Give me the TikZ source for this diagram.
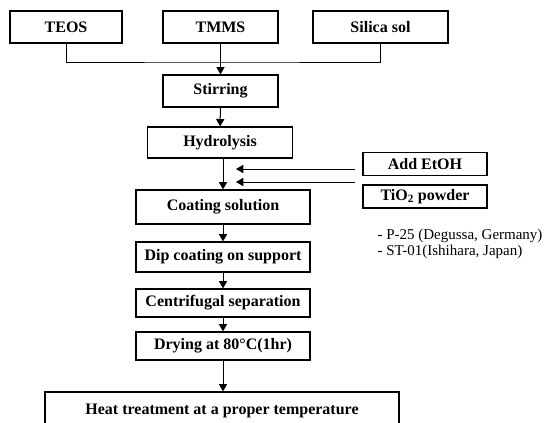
\documentclass[tikz,border=0pt]{standalone}
\usepackage{fontspec}
\setmainfont{Liberation Serif}
\usepackage{tikz}
\usetikzlibrary{calc}
\usetikzlibrary{arrows}
\tikzset{%
  myedge/.style={->, line width=1pt, >=triangle 60},
  myline/.style={line width=1pt},
  mybox/.style={rectangle, draw=black, line width=1.3pt, minimum height=30pt,
    inner sep=2pt, font=\fontsize{16}{19}\selectfont\bfseries}
}

\begin{document}
\begin{tikzpicture}[x=1pt,y=-1pt]
  \useasboundingbox (0,0) rectangle (550,423);
  \node[mybox, minimum width=112pt, minimum height=32pt] (teos) at (66,27) {TEOS};
  \node[mybox, minimum width=115pt, minimum height=32pt] (tmms) at (220.5,27) {TMMS};
  \node[mybox, minimum width=135pt, minimum height=32pt] (silica) at (380.5,27) {Silica sol};
  \node[mybox, minimum width=115pt, minimum height=32pt] (stir) at (220.5,91) {Stirring};
  \node[mybox, minimum width=145pt, minimum height=31pt] (hydro) at (220,142.5) {Hydrolysis};
  \node[mybox, minimum width=174pt, minimum height=34pt] (coat) at (223,207) {Coating solution};
  \node[mybox, minimum width=174pt] (dip) at (223,257) {Dip coating on support};
  \node[mybox, minimum width=174pt, minimum height=28pt] (centri) at (223,303) {Centrifugal separation};
  \node[mybox, minimum width=174pt, minimum height=28pt] (dry) at (223,346) {Drying at 80°C(1hr)};
  \node[mybox, minimum width=354pt, minimum height=38pt] (heat) at (222,411) {Heat treatment at a proper temperature};
  \node[mybox, minimum width=124pt, minimum height=23pt] (etoh) at (425,164) {Add EtOH};
  \node[mybox, minimum width=124pt, minimum height=23pt] (tio) at (425,196.5) {TiO\textsubscript{2} powder};
  \node[anchor=west, font=\fontsize{15}{18}\selectfont] (p25) at (374,236) {- P-25 (Degussa, Germany)};
  \node[anchor=west, font=\fontsize{15}{18}\selectfont] (st01) at (374,252) {- ST-01(Ishihara, Japan)};

  \coordinate (bus) at (220.5,62);
  \coordinate (etohend) at (355,169);
  \coordinate (etohtip) at (236,169);
  \coordinate (tioend) at (355,182);
  \coordinate (tiotip) at (236,182);

  \draw [myline] (teos.south) |- (bus) -| (silica.south);
  \draw [myedge] (tmms) -- (stir);
  \draw [myedge] (stir) -- (hydro);
  \draw [myedge] (hydro.south -| coat.north) -- (coat);
  \draw [myedge] (coat) -- (dip);
  \draw [myedge] (dip) -- (centri);
  \draw [myedge] (centri) -- (dry);
  \draw [myedge] (dry) -- (dry |- heat.north);
  \draw [myedge] (etohend) -- (etohtip);
  \draw [myedge] (tioend) -- (tiotip);
\end{tikzpicture}
\end{document}
